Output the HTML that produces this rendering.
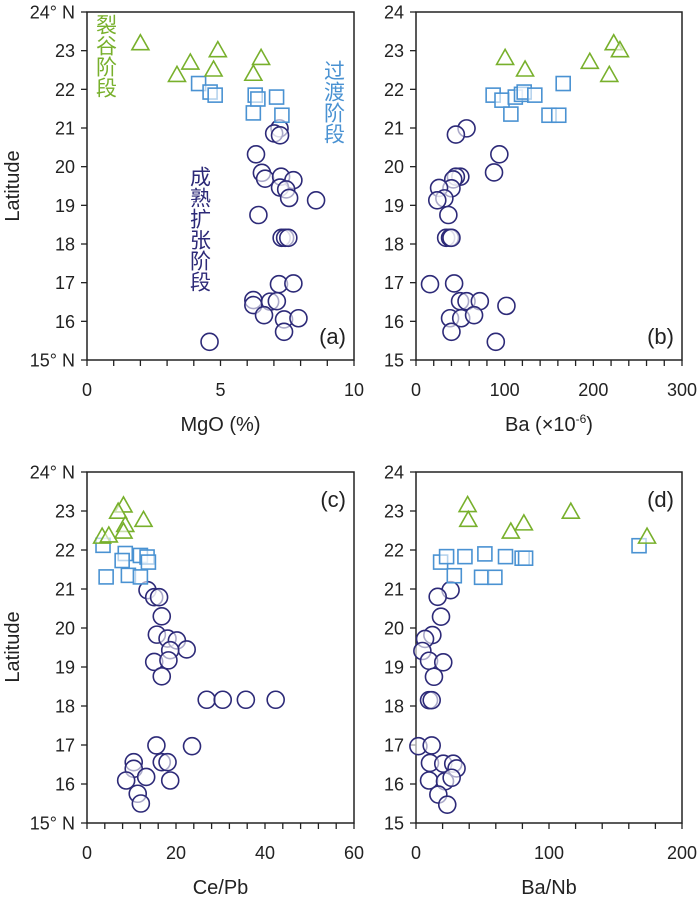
<!DOCTYPE html>
<html><head><meta charset="utf-8"><style>
body{margin:0;background:#fff}
svg text{font-family:"Liberation Sans","Noto Sans CJK SC",sans-serif;fill:#222}
</style></head><body>
<svg id="fig" width="700" height="894" xmlns="http://www.w3.org/2000/svg"></svg>
<script>
const aTriX=[2.0,4.9,3.87,6.52,4.74,3.37,6.23];
const aTriY=[23.18,23.0,22.68,22.8,22.5,22.36,22.39];
const aSqX=[4.18,4.61,4.8,6.3,7.1,6.23,7.3,6.4];
const aSqY=[22.15,21.93,21.85,21.85,21.8,21.39,21.33,21.75];
const aCirX=[7.21,7.01,7.23,6.33,6.55,6.67,7.27,7.73,7.23,7.46,7.57,8.58,6.42,7.29,7.42,7.54,7.19,7.73,6.23,6.23,6.86,7.11,6.63,7.38,7.92,7.38,4.59];
const aCirY=[20.99,20.86,20.81,20.32,19.84,19.69,19.74,19.65,19.46,19.41,19.19,19.13,18.75,18.16,18.16,18.16,16.96,16.98,16.55,16.42,16.51,16.52,16.16,16.05,16.08,15.73,15.47];
const bTriX=[100.5,123,196,223,230,218];
const bTriY=[22.8,22.5,22.7,23.18,23.0,22.36];
const bSqX=[87,97,112,119,122,134,107,150,161,166];
const bSqY=[21.85,21.72,21.8,21.87,21.93,21.85,21.36,21.33,21.33,22.15];
const bCirX=[57,45,94,88,50,45,42,40,26,32,24,36.5,34,38.4,40,15.8,43,49.7,57,72,102,38.4,51,65.5,40,90];
const bCirY=[20.99,20.83,20.32,19.85,19.74,19.74,19.67,19.44,19.45,19.18,19.13,18.75,18.16,18.16,18.16,16.96,16.98,16.52,16.52,16.52,16.40,16.08,16.08,16.16,15.73,15.47];
const cTriX=[8.2,7.0,12.7,8.6,8.2,3.4,4.9];
const cTriY=[23.13,22.97,22.76,22.63,22.46,22.33,22.36];
const cSqX=[3.6,8.6,12.0,13.5,13.8,7.9,4.3,9.3,12.0];
const cSqY=[22.12,21.91,21.86,21.82,21.69,21.73,21.31,21.35,21.31];
const cCirX=[13.6,15.1,16.2,16.8,15.7,18.1,20.2,22.4,18.7,15.1,18.3,16.8,26.9,30.5,35.7,42.4,15.6,23.6,10.5,16.8,18.1,10.5,8.8,13.3,18.7,11.4,12.1];
const cCirY=[20.97,20.79,20.79,20.30,19.83,19.73,19.68,19.45,19.43,19.13,19.17,18.76,18.16,18.16,18.16,18.16,16.99,16.97,16.56,16.56,16.56,16.39,16.09,16.18,16.09,15.75,15.50];
const dTriX=[38.8,39.3,71.3,81.1,116.4,173.7];
const dTriY=[23.14,22.76,22.46,22.67,22.97,22.33];
const dSqX=[18.5,23,36.8,51.8,67.3,79.8,82.4,28.8,49.3,59.3,167.7];
const dSqY=[21.69,21.83,21.83,21.90,21.83,21.79,21.79,21.34,21.30,21.30,22.11];
const dCirX=[26,16.3,18.8,12.3,6.8,4.8,9.8,20.5,13.5,9.8,11.8,1.8,11.8,10.5,20.5,28,30.5,9.8,21.8,26.8,16.8,23.5];
const dCirY=[20.97,20.80,20.29,19.82,19.72,19.41,19.16,19.12,18.75,18.15,18.15,16.97,16.99,16.54,16.52,16.52,16.40,16.09,16.07,16.16,15.73,15.47];
const latTicks=[15,16,17,18,19,20,21,22,23,24];
const aTicks=[0,5,10], bTicks=[0,100,200,300], cTicks=[0,20,40,60], dTicks=[0,100,200];

const NS='http://www.w3.org/2000/svg';
const svg=document.getElementById('fig');
function mk(tag,attrs,parent){const e=document.createElementNS(NS,tag);for(const k in attrs)e.setAttribute(k,attrs[k]);(parent||svg).appendChild(e);return e;}
const TRI='#78b02c', SQ='#4a92d2', CIR='#2d2a78';

function panel(id,x0,x1,y0,y1,xmax,minorStep,xTicks,leftLabels,title,letterY,tri,sq,cir){
  const g=mk('g',{});
  
  
  const sx=v=>x0+(v/xmax)*(x1-x0);
  const sy=v=>y1-(v-15)/9*(y1-y0);
  const frame=mk('rect',{x:x0,y:y0,width:x1-x0,height:y1-y0,fill:'none',stroke:'#222','stroke-width':1.5},g);
  
  
  latTicks.forEach(t=>{
    mk('line',{x1:x0-6,x2:x0,y1:sy(t),y2:sy(t),stroke:'#222','stroke-width':1.3},g);
    let lab=(leftLabels&&(t==24||t==15))?t+'° N':''+t;
    const tx=mk('text',{x:x0-12,y:sy(t)+6.5,'font-size':18,'text-anchor':'end'},g);
    tx.textContent=lab;
    
    
  });
  for(let v=0;v<=xmax+1e-9;v+=minorStep){
    mk('line',{x1:sx(v),x2:sx(v),y1:y1,y2:y1+6,stroke:'#222','stroke-width':1.3},g);
  }
  xTicks.forEach(t=>{
    const tx=mk('text',{x:sx(t),y:y1+36,'font-size':18,'text-anchor':'middle'},g);
    tx.textContent=t;
    
    
  });
  const tt=mk('text',{x:(x0+x1)/2,y:y1+71,'font-size':20,'text-anchor':'middle'},g);
  tt.innerHTML=title;
  
  
  const lt=mk('text',{x:x1-8,y:letterY,'font-size':22,'text-anchor':'end'},g);
  lt.textContent='('+id+')';
  
  
  cir[0].forEach((v,i)=>{
    const c=mk('circle',{cx:sx(v),cy:sy(cir[1][i]),r:8.5,fill:'#fff','fill-opacity':0.6,stroke:CIR,'stroke-width':1.6},g);
    
    
  });
  sq[0].forEach((v,i)=>{
    const s=mk('rect',{x:sx(v)-7,y:sy(sq[1][i])-7,width:14,height:14,fill:'#fff','fill-opacity':0.6,stroke:SQ,'stroke-width':1.6},g);
    
    
  });
  tri[0].forEach((v,i)=>{
    const cx=sx(v),cy=sy(tri[1][i]);
    const p=mk('polygon',{points:`${cx},${cy-9} ${cx-8.5},${cy+6} ${cx+8.5},${cy+6}`,fill:'#fff','fill-opacity':0.6,stroke:TRI,'stroke-width':1.6},g);
    
    
  });
}
panel('a',87,354,12,360,10,1,aTicks,true,'MgO (%)',344,[aTriX,aTriY],[aSqX,aSqY],[aCirX,aCirY]);
panel('b',416,682,12,360,300,20,bTicks,false,'Ba (×10<tspan dy="-8" font-size="12">-6</tspan><tspan dy="8">)</tspan>',344,[bTriX,bTriY],[bSqX,bSqY],[bCirX,bCirY]);
panel('c',87,354,472,823,60,4,cTicks,true,'Ce/Pb',507,[cTriX,cTriY],[cSqX,cSqY],[cCirX,cCirY]);
panel('d',416,682,472,823,200,20,dTicks,false,'Ba/Nb',507,[dTriX,dTriY],[dSqX,dSqY],[dCirX,dCirY]);

function ylab(y){const t=mk('text',{x:0,y:0,'font-size':20,'text-anchor':'middle',transform:`translate(19,${y}) rotate(-90)`});t.textContent='Latitude';

}
ylab(186);ylab(647);
function vlabel(txt,x,y,col,name){const t=mk('text',{x:x,y:y,'font-size':21,fill:col,style:'writing-mode:vertical-rl;fill:'+col});t.textContent=txt;

}
vlabel('裂谷阶段',105,14,TRI,'rift-stage-label');
vlabel('过渡阶段',333,60,SQ,'transition-stage-label');
vlabel('成熟扩张阶段',199,166,CIR,'mature-stage-label');
</script>
</body></html>
